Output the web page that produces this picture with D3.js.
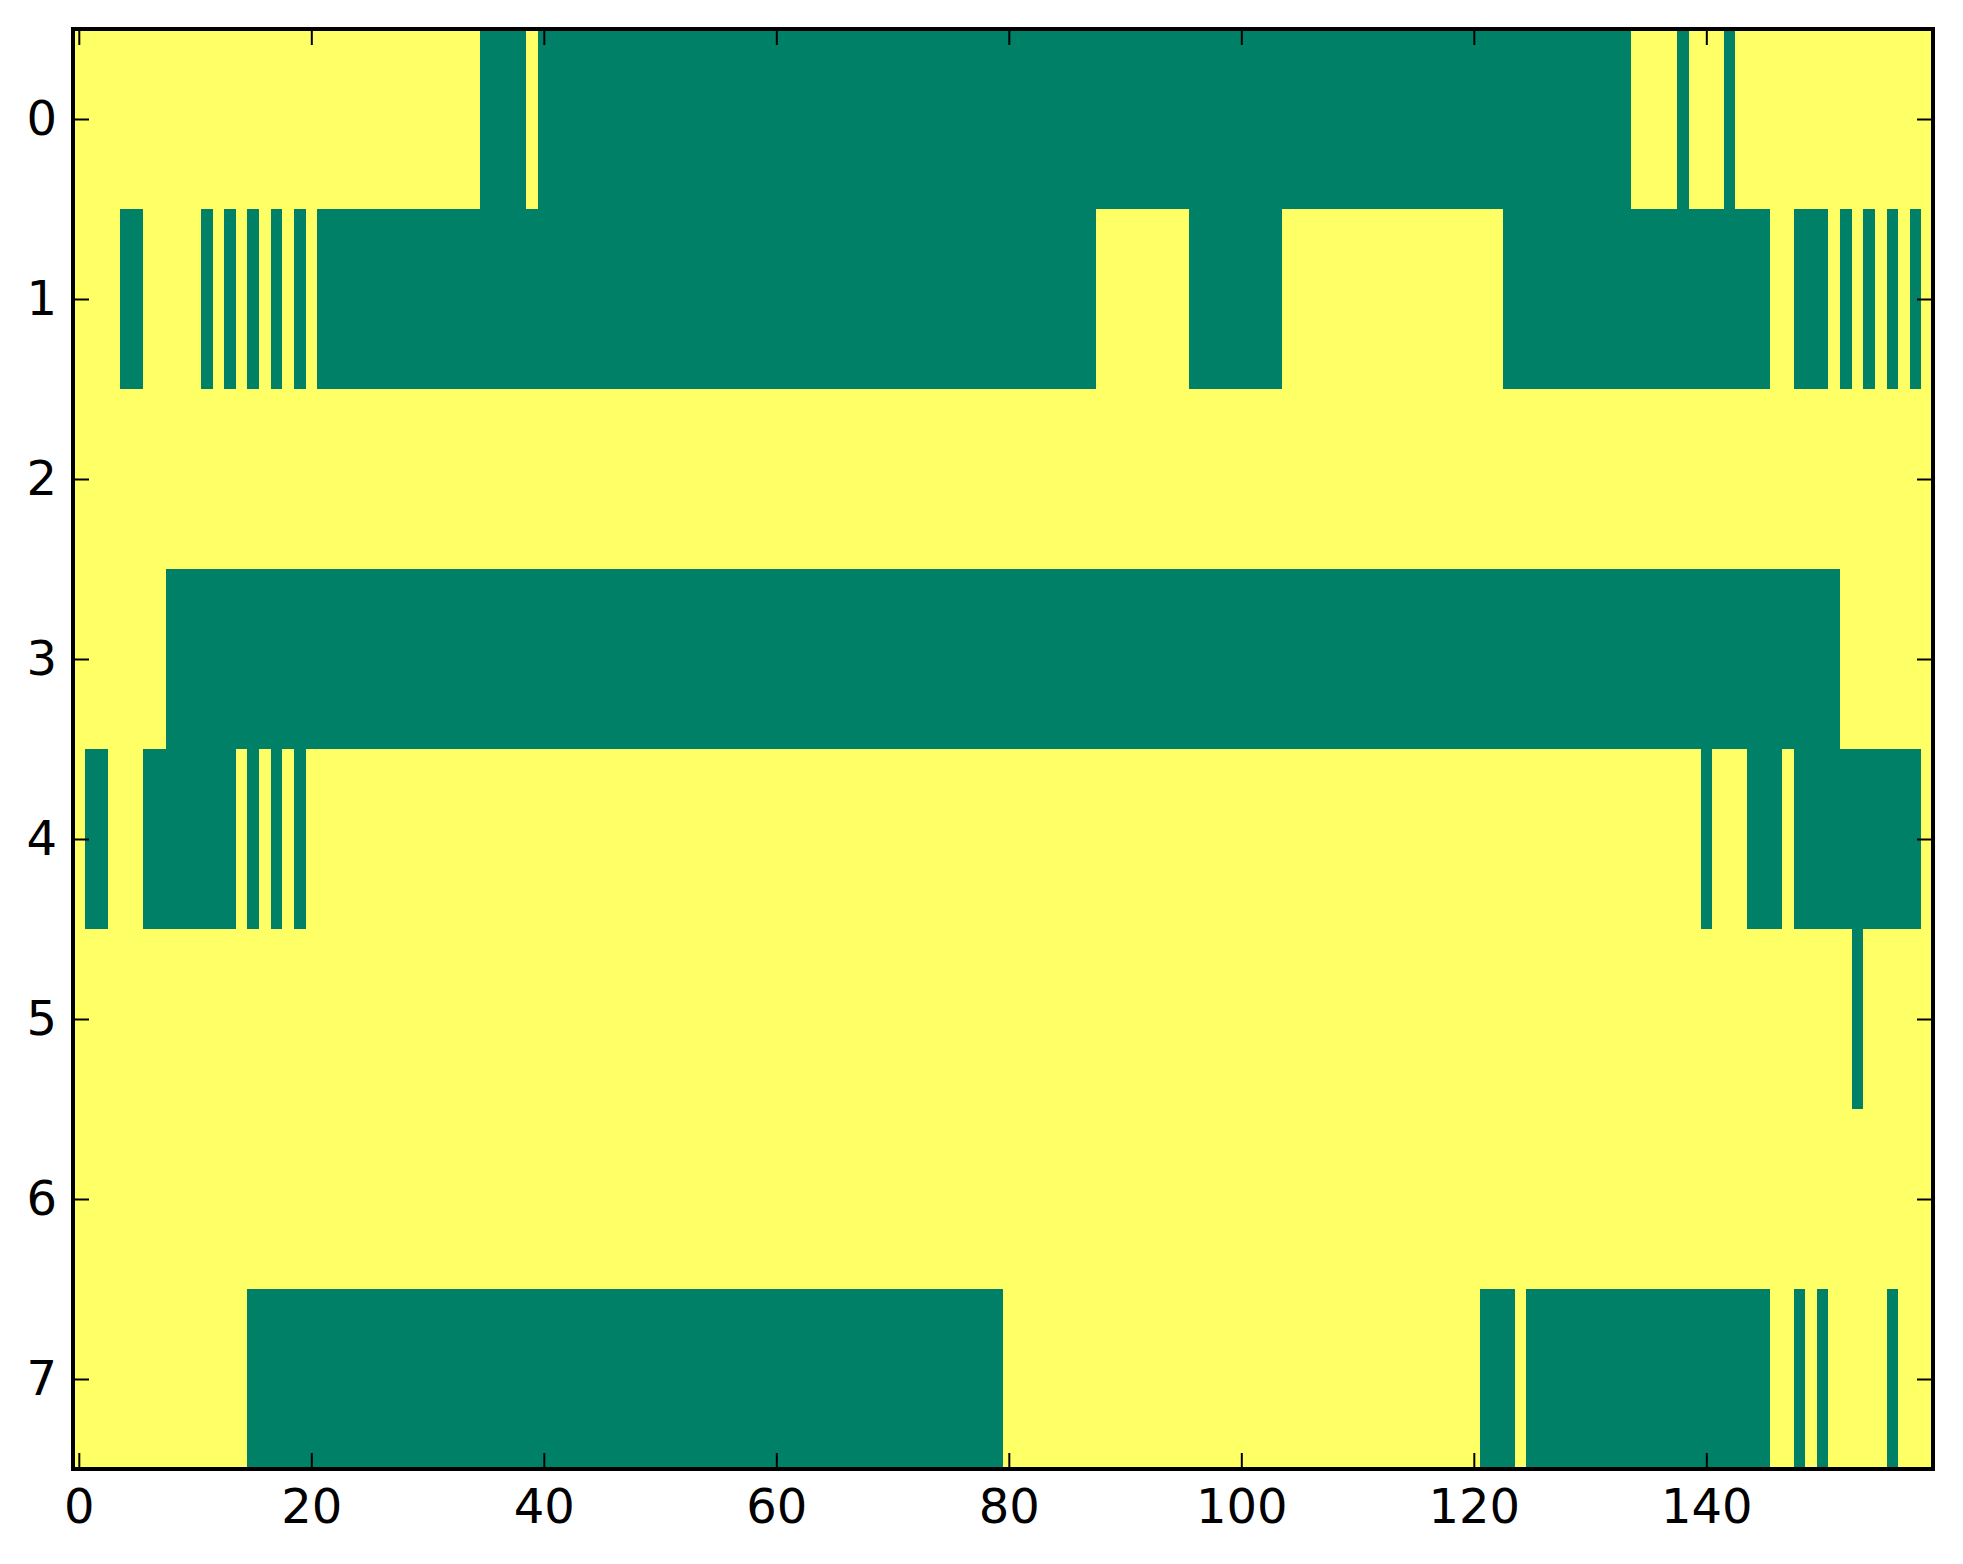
<!DOCTYPE html>
<html>
<head>
	<meta charset="utf-8">
	<title>Binary matrix</title>
	<style>
		body {
			margin: 0;
			background: #fff;
		}
		.axis text {
			font-family: "DejaVu Sans", sans-serif;
			font-size: 48px;
			fill: #000;
		}
		.axis line {
			stroke: #000;
			stroke-width: 2px;
		}
		.axis path {
			display: none;
		}
		.frame {
			fill: none;
			stroke: #000;
			stroke-width: 4px;
		}
	</style>
</head>
<body>
	<div id="chart"></div>
	<script src="https://cdn.jsdelivr.net/npm/d3@7"></script>
	<script>
		// rows of the matrix and the column count
		var rowIds = [0, 1, 2, 3, 4, 5, 6, 7];
		var columnCount = 160;
		var xTicks = [0, 20, 40, 60, 80, 100, 120, 140];

		// green (value 0) runs per row, [first column, last column], everything else is 1 (yellow)
		var row0 = [[35, 38], [40, 133], [138, 138], [142, 142]];
		var row1 = [[4, 5], [11, 11], [13, 13], [15, 15], [17, 17], [19, 19], [21, 87], [96, 103],
			[123, 145], [148, 150], [152, 152], [154, 154], [156, 156], [158, 158]];
		var row2 = [];
		var row3 = [[8, 151]];
		var row4 = [[1, 2], [6, 13], [15, 15], [17, 17], [19, 19], [140, 140], [144, 146], [148, 158]];
		var row5 = [[153, 153]];
		var row6 = [];
		var row7 = [[15, 79], [121, 123], [125, 145], [148, 148], [150, 150], [156, 156]];

		var greenRuns = [row0, row1, row2, row3, row4, row5, row6, row7];

		// expand runs into one cell per (row, column)
		var cells = [];
		rowIds.forEach(function (r, ri) {
			for (var c = 0; c < columnCount; c++) {
				var green = greenRuns[ri].some(function (run) { return c >= run[0] && c <= run[1]; });
				cells.push({ row: r, col: c, value: green ? 0 : 1 });
			}
		});

		var bounds = { width: 1963, height: 1564 };
		var plot = { left: 73, right: 1933, top: 29, bottom: 1469 };

		var svg = d3.select('#chart')
						.append('svg')
						.attr('width', bounds.width)
						.attr('height', bounds.height);

		var x = d3.scaleLinear()
						.domain([-0.5, columnCount - 0.5])
						.range([plot.left, plot.right]);

		var y = d3.scaleLinear()
						.domain([-0.5, rowIds.length - 0.5])
						.range([plot.top, plot.bottom]);

		// "summer" colormap ends
		var color = d3.scaleOrdinal()
						.domain([0, 1])
						.range(['#008066', '#ffff66']);

		svg.append('g')
			.attr('shape-rendering', 'crispEdges')
			.selectAll('rect')
			.data(cells)
			.enter()
			.append('rect')
			.attr('x', function (d) { return x(d.col - 0.5); })
			.attr('y', function (d) { return y(d.row - 0.5); })
			.attr('width', function (d) { return x(d.col + 0.5) - x(d.col - 0.5); })
			.attr('height', function (d) { return y(d.row + 0.5) - y(d.row - 0.5); })
			.attr('fill', function (d) { return color(d.value); });

		// ticks point inwards on all four sides
		svg.append('g')
			.attr('class', 'axis')
			.attr('transform', 'translate(0,' + plot.bottom + ')')
			.call(d3.axisBottom(x).tickValues(xTicks).tickSizeInner(-16).tickSizeOuter(0).tickPadding(16))
			.selectAll('text')
			.attr('dy', '0.8em');

		svg.append('g')
			.attr('class', 'axis')
			.attr('transform', 'translate(0,' + plot.top + ')')
			.call(d3.axisTop(x).tickValues(xTicks).tickSizeInner(-16).tickSizeOuter(0).tickFormat(''));

		svg.append('g')
			.attr('class', 'axis')
			.attr('transform', 'translate(' + plot.left + ',0)')
			.call(d3.axisLeft(y).tickValues(rowIds).tickSizeInner(-16).tickSizeOuter(0).tickPadding(16));

		svg.append('g')
			.attr('class', 'axis')
			.attr('transform', 'translate(' + plot.right + ',0)')
			.call(d3.axisRight(y).tickValues(rowIds).tickSizeInner(-16).tickSizeOuter(0).tickFormat(''));

		svg.append('rect')
			.attr('class', 'frame')
			.attr('x', plot.left)
			.attr('y', plot.top)
			.attr('width', plot.right - plot.left)
			.attr('height', plot.bottom - plot.top);
	</script>
</body>
</html>
